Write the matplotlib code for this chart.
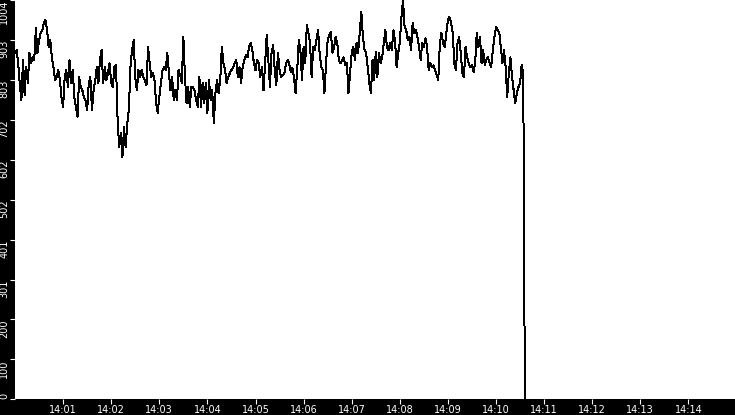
import numpy as np
import pandas as pd
import matplotlib
matplotlib.use("Agg")
import matplotlib.pyplot as plt
import matplotlib.dates as mdates

# readings from 14:00:00, one every 2 s, then the feed drops to 0
start_time = "2024-01-01 14:00:00"
step = "2s"

values = [
    871, 878, 845, 790, 752, 853, 765, 835, 795, 871,
    845, 860, 853, 933, 871, 903, 921, 928, 946, 954,
    928, 886, 903, 860, 835, 803, 810, 828, 803, 760,
    735, 810, 828, 785, 853, 795, 828, 760, 735, 710,
    810, 785, 777, 760, 752, 727, 795, 810, 727, 777, 800,
    835, 795, 853, 878, 795, 835, 803, 820, 845, 795, 785,
    835, 840, 702, 634, 669, 609, 684, 634, 694, 727,
    835, 878, 903, 810, 777, 828, 810, 828, 810, 803, 790,
    886, 845, 810, 820, 803, 745, 720, 760, 795, 828,
    835, 828, 871, 820, 777, 810, 752, 777, 752, 828, 815,
    795, 911, 810, 745, 785, 735, 785, 785, 777, 752,
    735, 810, 735, 795, 745, 795, 720, 803, 752, 777,
    694, 770, 803, 770, 803, 886, 845, 828, 795, 810, 820,
    828, 835, 845, 853, 810, 835, 795, 835, 853, 866,
    860, 886, 896, 878, 845, 828, 853, 845, 810,
    835, 777, 845, 916, 853, 785,
    871, 891, 828, 790, 871, 828, 810, 815, 820,
    845, 853, 845, 823, 833, 810, 770, 828, 903,
    878, 803, 886, 845, 941, 921, 896, 810, 886, 878,
    903, 928, 871, 835, 828, 770, 845, 903, 916, 923,
    871, 886, 911, 896, 853, 845, 853, 860, 840, 845,
    770, 820, 871, 886, 853, 896, 871, 921, 974,
    911, 878, 871, 835, 795, 770, 853, 803, 873,
    810, 871, 845, 860, 896, 928, 886, 878, 896, 878,
    928, 903, 835, 871, 896, 961, 1004, 936, 928, 903,
    911, 878, 946, 921, 928, 911, 886, 853, 896, 886,
    908, 886, 828, 845, 835, 840, 828, 815, 803, 896, 921,
    896, 886, 921, 954, 961, 946, 921, 845, 828,
    896, 911, 871, 820, 810, 886, 860, 845, 835,
    840, 823, 845, 921, 886, 911, 845, 878, 840, 853,
    860, 845, 835, 878, 911, 936, 928, 923, 886, 845,
    878, 835, 760, 820, 860, 810, 777, 745, 770, 785,
    795, 840, 820,
    0,
]

y_max = 1004
y_ticks = np.linspace(0, y_max, 11)
y_labels = ["0", "100", "200", "301", "401", "502", "602", "702", "803", "903", "1004"]
x_start = "2024-01-01 14:00:00"
x_end = "2024-01-01 14:15:00"
x_ticks = pd.date_range("2024-01-01 14:01:00", "2024-01-01 14:14:00", freq="1min")

times = pd.date_range(start_time, periods=len(values), freq=step)

fig = plt.figure(figsize=(7.35, 4.15), dpi=100, facecolor="black")
ax = fig.add_axes([15 / 735, 15.7 / 415, 721.5 / 735, 399.3 / 415])
ax.set_facecolor("white")

ax.plot(times, values, color="black", lw=0.72, antialiased=False)

ax.set_xlim(pd.Timestamp(x_start), pd.Timestamp(x_end))
ax.set_ylim(0, y_max)

ax.set_yticks(y_ticks)
ax.set_yticklabels(y_labels, rotation=90, fontsize=7, color="white")
for lab in ax.get_yticklabels():
    lab.set_va("top")
ax.get_yticklabels()[0].set_va("bottom")

ax.set_xticks(x_ticks)
ax.xaxis.set_major_formatter(mdates.DateFormatter("%H:%M"))
for lab in ax.get_xticklabels():
    lab.set_fontsize(7)
    lab.set_color("white")

ax.tick_params(axis="both", colors="white", length=3.4, width=0.8, direction="out")
ax.tick_params(axis="y", pad=0.6)
ax.tick_params(axis="x", pad=1.0)

for s in ax.spines.values():
    s.set_visible(False)

fig.savefig("out.png", dpi=100, facecolor="black")
